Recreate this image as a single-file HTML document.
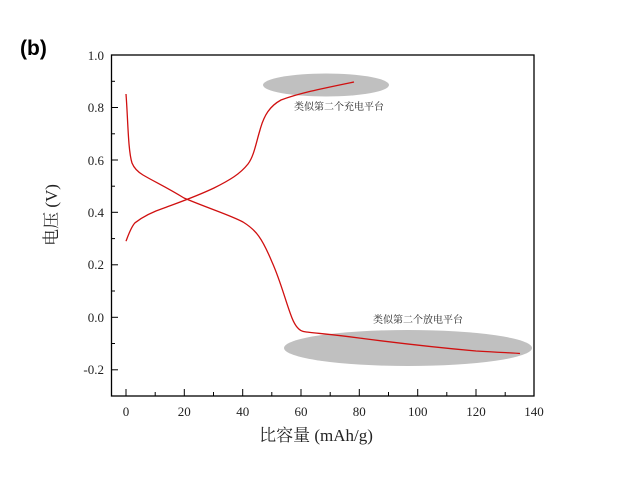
<!DOCTYPE html>
<html><head><meta charset="utf-8"><style>body{margin:0;background:#fff}</style></head><body>
<svg width="621" height="475" viewBox="0 0 621 475" xmlns="http://www.w3.org/2000/svg">
<rect width="621" height="475" fill="#fff"/>
<text x="20" y="55" font-family="Liberation Sans, sans-serif" font-weight="bold" font-size="21">(b)</text>
<ellipse cx="326" cy="85" rx="63" ry="11.5" fill="#c0c0c0"/>
<ellipse cx="408" cy="348" rx="124" ry="18" fill="#c0c0c0"/>
<g font-family="Liberation Serif, 'Noto Serif CJK SC', serif" font-size="10" fill="#222">
<text x="294" y="110">类似第二个充电平台</text>
<text x="373" y="323">类似第二个放电平台</text>
</g>
<rect x="111.5" y="55" width="422.5" height="341" fill="none" stroke="#000" stroke-width="1.3"/>
<g stroke="#000" stroke-width="1">
<line x1="111" y1="55" x2="118" y2="55"/><line x1="111" y1="107.5" x2="118" y2="107.5"/><line x1="111" y1="160" x2="118" y2="160"/><line x1="111" y1="212.3" x2="118" y2="212.3"/><line x1="111" y1="264.8" x2="118" y2="264.8"/><line x1="111" y1="317.3" x2="118" y2="317.3"/><line x1="111" y1="369.8" x2="118" y2="369.8"/>
<line x1="111" y1="81.3" x2="115" y2="81.3"/><line x1="111" y1="133.8" x2="115" y2="133.8"/><line x1="111" y1="186.2" x2="115" y2="186.2"/><line x1="111" y1="238.6" x2="115" y2="238.6"/><line x1="111" y1="291" x2="115" y2="291"/><line x1="111" y1="343.5" x2="115" y2="343.5"/>
<line x1="126" y1="396" x2="126" y2="389"/><line x1="184.3" y1="396" x2="184.3" y2="389"/><line x1="242.7" y1="396" x2="242.7" y2="389"/><line x1="301" y1="396" x2="301" y2="389"/><line x1="359.3" y1="396" x2="359.3" y2="389"/><line x1="417.7" y1="396" x2="417.7" y2="389"/><line x1="476" y1="396" x2="476" y2="389"/>
<line x1="155.2" y1="396" x2="155.2" y2="392"/><line x1="213.5" y1="396" x2="213.5" y2="392"/><line x1="271.8" y1="396" x2="271.8" y2="392"/><line x1="330.2" y1="396" x2="330.2" y2="392"/><line x1="388.5" y1="396" x2="388.5" y2="392"/><line x1="446.8" y1="396" x2="446.8" y2="392"/><line x1="505.2" y1="396" x2="505.2" y2="392"/>
</g>
<g font-family="Liberation Serif, serif" font-size="13" fill="#222" text-anchor="end">
<text x="104" y="60">1.0</text><text x="104" y="112">0.8</text><text x="104" y="165">0.6</text><text x="104" y="217">0.4</text><text x="104" y="269">0.2</text><text x="104" y="322">0.0</text><text x="104" y="374">-0.2</text>
</g>
<g font-family="Liberation Serif, serif" font-size="13" fill="#222" text-anchor="middle">
<text x="126" y="416">0</text><text x="184.3" y="416">20</text><text x="242.7" y="416">40</text><text x="301" y="416">60</text><text x="359.3" y="416">80</text><text x="417.7" y="416">100</text><text x="476" y="416">120</text><text x="534" y="416">140</text>
</g>
<text x="316" y="441" text-anchor="middle" font-family="Liberation Serif, 'Noto Serif CJK SC', serif" font-size="17" fill="#222">比容量 (mAh/g)</text>
<text transform="translate(57,215) rotate(-90)" text-anchor="middle" font-family="Liberation Serif, 'Noto Serif CJK SC', serif" font-size="17" fill="#222">电压 (V)</text>
<g fill="none" stroke="#d01010" stroke-width="1.3">
<path d="M126,241.2 C128,236 131,227 135,222.8 C145,215 155,211 164,208 C180,202 195,197 214,188 C230,180 240,174 248,164 C254,156 256,143 260,130 C264,115 270,106 281,100 C300,93 320,89 354,82"/>
<path d="M126,94 C128,120 128,150 132,163 C134,168 138,172 143,175 C155,182 166,187 184,198 C210,209 230,215 243,222 C256,230 262,238 272,262 C281,282 286,303 292,318 C296,328 300,331 304,331.6 C312,333 330,334 359,338 C390,342 420,346 476,351 C500,352.5 515,353 520,353.5"/>
</g>
</svg>
</body></html>
